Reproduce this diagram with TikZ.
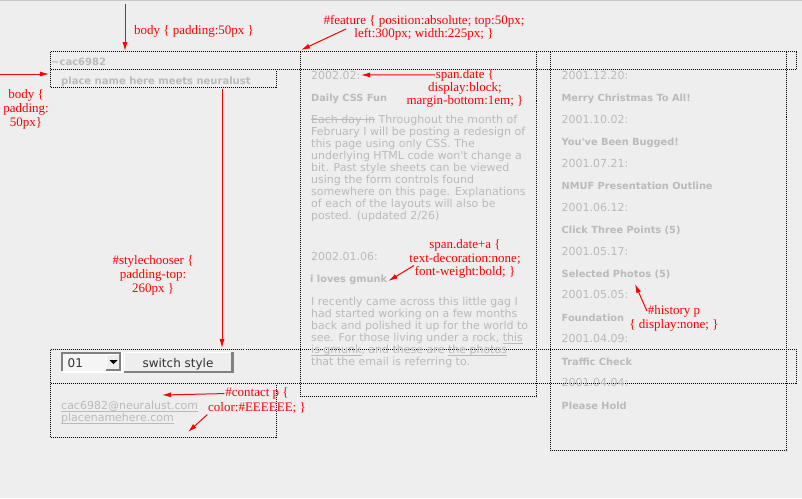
\documentclass[tikz,border=0pt]{standalone}
\usepackage{fontspec}
\usepackage{xcolor}
\usetikzlibrary{arrows.meta}
\newfontfamily\pagefont{DejaVu Sans}
\newfontfamily\notefont{Liberation Serif}
\definecolor{PageBg}{rgb}{0.933,0.933,0.933}
\definecolor{PageText}{rgb}{0.73,0.73,0.73}
\definecolor{NoteRed}{rgb}{1,0,0}
\definecolor{CtrlEdge}{rgb}{0.5,0.5,0.5}
\definecolor{CtrlText}{rgb}{0.2,0.2,0.2}
\newsavebox\linebox
\newcommand\strikeout[1]{\sbox\linebox{#1}\rlap{\usebox\linebox}\rule[0.3em]{\wd\linebox}{0.8pt}}
\newcommand\linkline[1]{\sbox\linebox{#1}\rlap{\usebox\linebox}\rule[-2pt]{\wd\linebox}{0.8pt}}

\begin{document}
\begin{tikzpicture}[x=1pt,y=1pt,yscale=-1,xscale=1,
  pagetext/.style={anchor=base west,inner sep=0pt,text=PageText,font=\pagefont\fontsize{11}{12}\selectfont},
  pagebold/.style={pagetext,font=\pagefont\bfseries\fontsize{9.8}{12}\selectfont},
  notetext/.style={anchor=base,inner sep=0.75pt,text=NoteRed,font=\notefont\fontsize{13}{14}\selectfont},
  notearrow/.style={draw=NoteRed,line width=1pt,-{Latex[length=9pt,width=5pt]}},
  dotbox/.style={draw=black,line width=1pt,dash pattern=on 1pt off 1pt}]

  %page
  \fill[PageBg] (0,0) rectangle (802,498);
  \useasboundingbox (0,0) rectangle (802,498);
  \draw[color=black!22,line width=1pt] (0,0.5) -- (802,0.5);

  %Boxes (shared edges drawn once)
  \draw[dotbox] (50.5,51.5) rectangle (796.5,69.5);
  \draw[dotbox] (50.5,69.5) -- (50.5,87.5) -- (276.5,87.5) -- (276.5,69.5);
  \draw[dotbox] (300.5,51.5) -- (300.5,396.5) -- (536.5,396.5) -- (536.5,51.5);
  \draw[dotbox] (550.5,51.5) -- (550.5,450.5) -- (786.5,450.5) -- (786.5,51.5);
  \draw[dotbox] (50.5,349.5) rectangle (796.5,383.5);
  \draw[dotbox] (50.5,383.5) -- (50.5,437.5) -- (276.5,437.5) -- (276.5,383.5);

  % Header
  \node[pagetext,font=\pagefont\bfseries\fontsize{10}{12}\selectfont] (user) at (51,65) {\textasciitilde cac6982};
  \node[pagetext,font=\pagefont\bfseries\fontsize{10}{12}\selectfont] (sitename) at (61,84) {place name here meets neuralust};

  % Feature column
  \node[pagetext] (fdate1) at (311,79) {2002.02:};
  \node[pagebold] (ftitle1) at (311,101) {Daily CSS Fun};
  \node[pagetext] (fpara1a) at (311,123.3) {\strikeout{Each day in} Throughout the month of};
  \node[pagetext] (fpara1b) at (311,135.3) {February I will be posting a redesign of};
  \node[pagetext] (fpara1c) at (311,147.3) {this page using only CSS. The};
  \node[pagetext] (fpara1d) at (311,159.3) {underlying HTML code won't change a};
  \node[pagetext] (fpara1e) at (311,171.3) {bit. Past style sheets can be viewed};
  \node[pagetext] (fpara1f) at (311,183.3) {using the form controls found};
  \node[pagetext] (fpara1g) at (311,195.3) {somewhere on this page. Explanations};
  \node[pagetext] (fpara1h) at (311,207.3) {of each of the layouts will also be};
  \node[pagetext] (fpara1i) at (311,219.3) {posted. (updated 2/26)};
  \node[pagetext] (fdate2) at (311,260.7) {2002.01.06:};
  \node[pagebold] (ftitle2) at (310,282.5) {i loves gmunk};
  \node[pagetext] (fpara2a) at (311,305.3) {I recently came across this little gag I};
  \node[pagetext] (fpara2b) at (311,317.3) {had started working on a few months};
  \node[pagetext] (fpara2c) at (311,329.3) {back and polished it up for the world to};
  \node[pagetext] (fpara2d) at (311,341.3) {see. For those living under a rock, \linkline{this}};
  \node[pagetext] (fpara2e) at (311,353.3) {\linkline{is gmunk}, and these are \linkline{the photos}};
  \node[pagetext] (fpara2f) at (311,365.3) {that the email is referring to.};

  % History column
  \node[pagetext] (hdate1) at (561.5,79) {2001.12.20:};
  \node[pagebold] (htitle1) at (561.5,101.3) {Merry Christmas To All!};
  \node[pagetext] (hdate2) at (561.5,123.2) {2001.10.02:};
  \node[pagebold] (htitle2) at (561.5,145.3) {You've Been Bugged!};
  \node[pagetext] (hdate3) at (561.5,167) {2001.07.21:};
  \node[pagebold] (htitle3) at (561.5,189.3) {NMUF Presentation Outline};
  \node[pagetext] (hdate4) at (561.5,211) {2001.06.12:};
  \node[pagebold] (htitle4) at (561.5,233.3) {Click Three Points (5)};
  \node[pagetext] (hdate5) at (561.5,255) {2001.05.17:};
  \node[pagebold] (htitle5) at (561.5,277.3) {Selected Photos (5)};
  \node[pagetext] (hdate6) at (561.5,298.8) {2001.05.05:};
  \node[pagebold] (htitle6) at (561.5,321.3) {Foundation};
  \node[pagetext] (hdate7) at (561.5,342.7) {2001.04.09:};
  \node[pagebold] (htitle7) at (561.5,365) {Traffic Check};
  \node[pagetext] (hdate8) at (561.5,386.7) {2001.04.04:};
  \node[pagebold] (htitle8) at (561.5,409.3) {Please Hold};

  % Style chooser
  \fill[white] (61,352) rectangle (123,373);
  \fill[CtrlEdge] (61,352) rectangle (121,371);
  \fill[PageBg!60!white] (63,354) rectangle (121,371);
  \fill[CtrlEdge] (106,354) rectangle (121,371);
  \fill[white] (106,354) rectangle (119,369);
  \fill[PageBg] (107,355) rectangle (119,369);
  \fill[black] (109.5,360) -- (117.5,360) -- (113.5,364) -- cycle;
  \node[anchor=base west,inner sep=0pt,text=CtrlText,font=\pagefont\fontsize{12}{14}\selectfont] (styleval) at (67.5,367) {01};
  \fill[CtrlEdge] (124,352) rectangle (233.5,373);
  \fill[white] (124,352) rectangle (231,371);
  \fill[PageBg] (125,353) rectangle (231,371);
  \node[anchor=base,inner sep=0pt,text=CtrlText,font=\pagefont\fontsize{12}{14}\selectfont] (switchbtn) at (178,367) {switch style};

  % Contact
  \node[pagetext] (mail) at (61,409.3) {\linkline{cac6982@neuralust.com}};
  \node[pagetext] (site) at (61,421.7) {\linkline{placenamehere.com}};

  % Notes
  \node[notetext] (bodynote) at (194,34.3) {body \{ padding:50px \}};
  \node[notetext] (padnote1) at (26,98.3) {body \{};
  \node[notetext] (padnote2) at (26,112.3) {padding:};
  \node[notetext] (padnote3) at (26,126) {50px\}};
  \node[notetext] (featnote1) at (424,24.3) {\#feature \{ position:absolute; top:50px;};
  \node[notetext] (featnote2) at (424,37.7) {left:300px; width:225px; \}};
  \node[notetext] (datenote1) at (465,78) {span.date \{};
  \node[notetext] (datenote2) at (465,91) {display:block;};
  \node[notetext] (datenote3) at (465,104.3) {margin-bottom:1em; \}};
  \node[notetext] (boldnote1) at (465,248.3) {span.date+a \{};
  \node[notetext] (boldnote2) at (465,262.3) {text-decoration:none;};
  \node[notetext] (boldnote3) at (465,275.7) {font-weight:bold; \}};
  \node[notetext] (choosernote1) at (153,264) {\#stylechooser \{};
  \node[notetext] (choosernote2) at (153,278) {padding-top:};
  \node[notetext] (choosernote3) at (153,292.5) {260px \}};
  \node[notetext] (contactnote1) at (257,396.7) {\#contact p \{};
  \node[notetext] (contactnote2) at (257,411.7) {color:\#EEEEEE; \}};
  \node[notetext] (historynote1) at (674,314) {\#history p};
  \node[notetext] (historynote2) at (674,328.3) {\{ display:none; \}};

  % Arrows
  \coordinate (bodytop) at (125,4);
  \coordinate (bodytip) at (125,51);
  \coordinate (padstart) at (0,74);
  \coordinate (padtip) at (49,74);
  \coordinate (chooserstart) at (222,89);
  \coordinate (choosertip) at (222,348);
  \coordinate (featstart) at (346,29);
  \coordinate (feattip) at (301,50);
  \coordinate (datetip) at (361,75);
  \coordinate (boldtip) at (388.5,281);
  \coordinate (contacttip) at (162,395);
  \coordinate (contacttip2) at (188,432);
  \coordinate (historytip) at (635,284);
  \draw[notearrow] (bodytop) -- (bodytip);
  \draw[notearrow] (padstart) -- (padtip);
  \draw[notearrow] (chooserstart) -- (choosertip);
  \draw[notearrow] (featstart) -- (feattip);
  \draw[notearrow] (datenote1.west) -- (datetip);
  \draw[notearrow] (boldnote3.north west) -- (boldtip);
  \draw[notearrow] (contactnote1.west) -- (contacttip);
  \draw[notearrow] (contactnote2.south west) -- (contacttip2);
  \draw[notearrow] (historynote1.west) -- (historytip);

\end{tikzpicture}
\end{document}
